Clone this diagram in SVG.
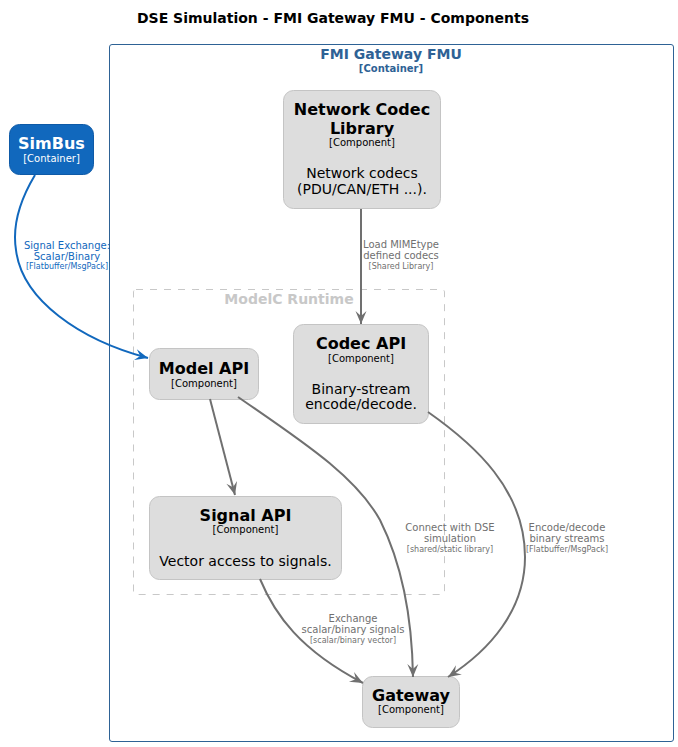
<svg xmlns="http://www.w3.org/2000/svg" width="678" height="747" viewBox="0 0 678 747">
<style>
text{font-family:"DejaVu Sans","Liberation Sans",sans-serif;text-anchor:middle}
.title{font-size:14px;font-weight:bold;fill:#000}
.bnd{fill:none;stroke:#2E6295;stroke-width:1}
.bndName{font-size:14px;font-weight:bold;fill:#2E6295}
.bndType{font-size:10px;font-weight:bold;fill:#2E6295}
.rt{fill:none;stroke:#C8C8C8;stroke-width:1;stroke-dasharray:7 7}
.rtName{font-size:14px;font-weight:bold;fill:#C8C8C8}
.comp{fill:#DDDDDD;stroke:#C4C4C4;stroke-width:1}
.cont{fill:#1168BD;stroke:#0E5AA7;stroke-width:1}
.name{font-size:16px;font-weight:bold;fill:#000}
.type{font-size:10px;fill:#000}
.desc{font-size:14px;fill:#000}
.wname{font-size:16px;font-weight:bold;fill:#FFF}
.wtype{font-size:10px;fill:#FFF}
.edge{fill:none;stroke:#707070;stroke-width:2}
.bedge{fill:none;stroke:#1168BD;stroke-width:2}
.lbl{font-size:10px;fill:#707070}
.tech{font-size:8px;fill:#707070}
.blbl{font-size:10px;fill:#1168BD}
.btech{font-size:8px;fill:#1168BD}
</style>
<defs>
<marker id="arr" viewBox="-14 -7 15 14" refX="0" refY="0" markerWidth="15" markerHeight="14" markerUnits="userSpaceOnUse" orient="auto"><path d="M0,0 L-13,-5.5 L-8,0 L-13,5.5 Z" fill="#707070"/></marker>
<marker id="barr" viewBox="-14 -7 15 14" refX="0" refY="0" markerWidth="15" markerHeight="14" markerUnits="userSpaceOnUse" orient="auto"><path d="M0,0 L-13,-5.5 L-8,0 L-13,5.5 Z" fill="#1168BD"/></marker>
</defs>
<rect width="678" height="747" fill="#FFFFFF"/>
<text class="title" x="333" y="23">DSE Simulation - FMI Gateway FMU - Components</text>

<g id="fmi-gateway-fmu">
<rect class="bnd" x="109.5" y="44.5" width="564" height="697" rx="2.5"/>
<text class="bndName" x="391" y="59">FMI Gateway FMU</text>
<text class="bndType" x="391" y="72">[Container]</text>
</g>

<g id="modelc-runtime">
<rect class="rt" x="133.5" y="289.5" width="311" height="305" rx="2.5"/>
<text class="rtName" x="289" y="304">ModelC Runtime</text>
</g>

<g id="simbus">
<rect class="cont" x="9.5" y="124.5" width="84" height="50" rx="10"/>
<text class="wname" x="51.5" y="149">SimBus</text>
<text class="wtype" x="51.5" y="162">[Container]</text>
</g>

<g id="network-codec-library">
<rect class="comp" x="283.5" y="90.5" width="157" height="118" rx="10"/>
<text class="name" x="362" y="115">Network Codec</text>
<text class="name" x="362" y="134">Library</text>
<text class="type" x="362" y="146">[Component]</text>
<text class="desc" x="362" y="178">Network codecs</text>
<text class="desc" x="362" y="194">(PDU/CAN/ETH ...).</text>
</g>

<g id="codec-api">
<rect class="comp" x="293.5" y="324.5" width="135" height="99" rx="10"/>
<text class="name" x="361" y="349">Codec API</text>
<text class="type" x="361" y="362">[Component]</text>
<text class="desc" x="361" y="394">Binary-stream</text>
<text class="desc" x="361" y="409">encode/decode.</text>
</g>

<g id="model-api">
<rect class="comp" x="149.5" y="348.5" width="109" height="51" rx="10"/>
<text class="name" x="204" y="374">Model API</text>
<text class="type" x="204" y="387">[Component]</text>
</g>

<g id="signal-api">
<rect class="comp" x="149.5" y="496.5" width="192" height="83" rx="10"/>
<text class="name" x="245.5" y="521">Signal API</text>
<text class="type" x="245.5" y="533">[Component]</text>
<text class="desc" x="245.5" y="566">Vector access to signals.</text>
</g>

<g id="gateway">
<rect class="comp" x="362.5" y="676.5" width="97" height="51" rx="10"/>
<text class="name" x="411" y="701">Gateway</text>
<text class="type" x="411" y="713">[Component]</text>
</g>

<g id="connectors">
<path class="bedge" d="M35,175 C20,200 12,225 16,250 C22,300 80,340 148,358" marker-end="url(#barr)"/>
<text class="blbl" x="67" y="249">Signal Exchange:</text>
<text class="blbl" x="67" y="260">Scalar/Binary</text>
<text class="btech" x="67" y="269">[Flatbuffer/MsgPack]</text>

<path class="edge" d="M361,209 L361,324" marker-end="url(#arr)"/>
<text class="lbl" x="401" y="248">Load MIMEtype</text>
<text class="lbl" x="401" y="259">defined codecs</text>
<text class="tech" x="401" y="269">[Shared Library]</text>

<path class="edge" d="M210,399 L235,495" marker-end="url(#arr)"/>

<path class="edge" d="M238,397 C300,440 355,475 380,520 C400,560 412,610 413,677" marker-end="url(#arr)"/>
<text class="lbl" x="450" y="531">Connect with DSE</text>
<text class="lbl" x="450" y="542">simulation</text>
<text class="tech" x="450" y="552">[shared/static library]</text>

<path class="edge" d="M428,412 C475,445 525,490 525,557 C525,610 490,650 448,677" marker-end="url(#arr)"/>
<text class="lbl" x="567" y="531">Encode/decode</text>
<text class="lbl" x="567" y="542">binary streams</text>
<text class="tech" x="567" y="552">[Flatbuffer/MsgPack]</text>

<path class="edge" d="M260,579 C275,615 300,650 363,683" marker-end="url(#arr)"/>
<text class="lbl" x="353" y="622">Exchange</text>
<text class="lbl" x="353" y="633">scalar/binary signals</text>
<text class="tech" x="353" y="643">[scalar/binary vector]</text>
</g>
</svg>
